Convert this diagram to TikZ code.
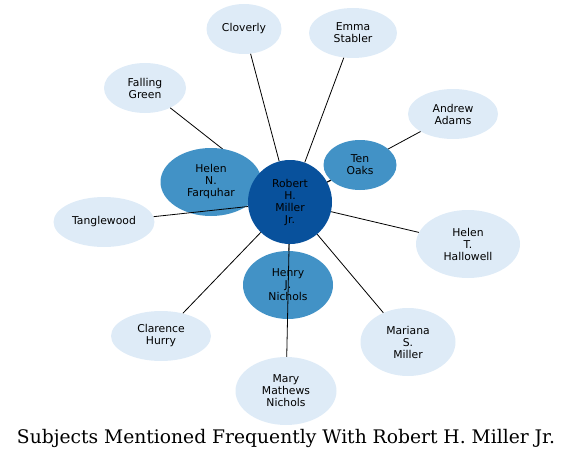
\documentclass[tikz,border=0pt]{standalone}
\usepackage{fontspec}
\setmainfont{DejaVu Sans}
\newfontfamily\titlefont{DejaVu Serif}
\usetikzlibrary{shapes.geometric}
\definecolor{palebl}{RGB}{222,235,247}
\definecolor{midbl}{RGB}{66,146,198}
\definecolor{deepbl}{RGB}{8,81,156}
\pgfdeclarelayer{back}
\pgfdeclarelayer{over}
\pgfdeclarelayer{front}
\pgfsetlayers{back,main,over,front}

\begin{document}
\begin{tikzpicture}[x=1pt,y=-1pt,
    subj/.style={ellipse,fill=palebl,inner sep=0pt,align=center,
      font=\fontsize{10.8}{12}\selectfont},
    near/.style={subj,fill=midbl},
    hub/.style={subj,fill=deepbl},
    link/.style={black,line width=0.8pt}]
  \useasboundingbox (0,0) rectangle (573,460);
  % frequent co-subjects
  \node[near,minimum width=101,minimum height=68] (farquhar) at (211,182) {Helen\\N.\\Farquhar};
  \node[near,minimum width=90,minimum height=68] (henry) at (288,285) {Henry\\J.\\Nichols};
  \node[near,minimum width=73,minimum height=50] (tenoaks) at (360,165) {Ten\\Oaks};
  % other subjects
  \begin{pgfonlayer}{back}
  \node[subj,minimum width=75,minimum height=50] (cloverly) at (244,29) {Cloverly};
  \node[subj,minimum width=88,minimum height=50] (stabler) at (353,33) {Emma\\Stabler};
  \node[subj,minimum width=82,minimum height=50] (falling) at (145,88) {Falling\\Green};
  \node[subj,minimum width=90,minimum height=50] (adams) at (453,114) {Andrew\\Adams};
  \node[subj,minimum width=101,minimum height=50] (tangle) at (104,222) {Tanglewood};
  \node[subj,minimum width=104,minimum height=68] (hallowell) at (468,244) {Helen\\T.\\Hallowell};
  \node[subj,minimum width=100,minimum height=50] (hurry) at (161,336) {Clarence\\Hurry};
  \node[subj,minimum width=95,minimum height=68] (mariana) at (408,342) {Mariana\\S.\\Miller};
  \node[subj,minimum width=101,minimum height=68] (mary) at (286,391) {Mary\\Mathews\\Nichols};
  \end{pgfonlayer}
  \begin{pgfonlayer}{front}
    \node[hub,minimum width=84,minimum height=84] (robert) at (290,202) {Robert\\H.\\Miller\\Jr.};
  \end{pgfonlayer}
  \begin{pgfonlayer}{back}
  \foreach \n in {farquhar,henry,tenoaks,cloverly,stabler,falling,adams,hallowell,hurry,mariana}
    \draw[link] (robert) -- (\n);
  \end{pgfonlayer}
  \begin{pgfonlayer}{over}
  \foreach \n in {tangle,mary}
    \draw[link] (robert) -- (\n);
  \end{pgfonlayer}
  \node[font=\titlefont\fontsize{18.7}{22}\selectfont] (title) at (286,438) {Subjects Mentioned Frequently With Robert H. Miller Jr.};
\end{tikzpicture}
\end{document}
